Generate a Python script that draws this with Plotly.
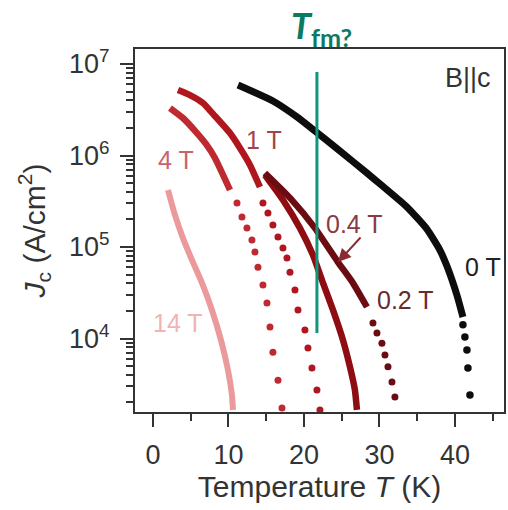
import numpy as np
import plotly.graph_objects as go

# ---------------- data ----------------
# 0 T (black)
T_0T_line = [11.26, 15.89, 19.07, 21.46, 24.77, 28.34, 30.07, 33.64, 36.29, 38.01, 38.94, 40.26, 41.06]
J_0T_line = [5.89e6, 3.94e6, 2.64e6, 1.85e6, 1.12e6, 6.44e5, 4.89e5, 2.74e5, 1.57e5, 9.27e4, 6.19e4, 2.99e4, 1.72e4]
T_0T_dots = [41.06, 41.32, 41.59, 41.72, 41.99]
J_0T_dots = [1.41e4, 1.04e4, 7.5e3, 4.76e3, 2.42e3]

# 0.2 T (dark maroon)
T_02T_line = [14.83, 18.15, 21.46, 24.50, 26.49, 28.34]
J_02T_line = [6.44e5, 3.44e5, 1.61e5, 6.85e4, 4.05e4, 2.21e4]
T_02T_dots = [29.14, 29.67, 30.33, 30.73, 31.13, 31.66, 32.05]
J_02T_dots = [1.48e4, 1.15e4, 8.9e3, 6.6e3, 4.9e3, 3.35e3, 2.3e3]

# 0.4 T (dark red)
T_04T_line = [14.83, 17.22, 19.47, 21.19, 22.52, 23.84, 25.17, 26.09, 26.75, 27.02]
J_04T_line = [6.12e5, 3.27e5, 1.61e5, 8.2e4, 4.05e4, 2.05e4, 9.6e3, 4.9e3, 2.74e3, 1.66e3]

# 1 T (red)
T_1T_line = [3.31, 4.90, 6.62, 8.21, 10.20, 11.52, 12.85, 14.17]
J_1T_line = [5.2e6, 4.58e6, 3.75e6, 2.70e6, 1.76e6, 1.21e6, 7.9e5, 4.53e5]
T_1T_dots = [14.57, 15.23, 15.89, 16.56, 17.22, 17.75, 18.15, 18.81, 19.21, 20.13, 20.53, 21.06, 21.72, 22.12]
J_1T_dots = [3.03e5, 2.36e5, 1.74e5, 1.29e5, 9.75e4, 7.6e4, 5.3e4, 3.39e4, 2.05e4, 1.24e4, 7.9e3, 4.76e3, 2.74e3, 1.66e3]

# 4 T (red)
T_4T_line = [2.25, 3.97, 5.83, 7.02, 8.21, 10.20]
J_4T_line = [3.3e6, 2.57e6, 1.76e6, 1.34e6, 9.4e5, 4.2e5]
T_4T_dots = [11.13, 11.79, 12.45, 13.11, 13.51, 13.91, 14.57, 15.10, 15.50, 15.89, 16.56, 17.09]
J_4T_dots = [3.03e5, 2.13e5, 1.61e5, 1.19e5, 8.8e4, 6.0e4, 3.85e4, 2.44e4, 1.34e4, 7.1e3, 3.5e3, 1.74e3]

# 14 T (pink)
T_14T_line = [1.99, 2.91, 3.97, 5.17, 6.49, 7.81, 9.01, 9.93, 10.46, 10.60]
J_14T_line = [4.2e5, 2.24e5, 1.25e5, 7.2e4, 4.05e4, 2.05e4, 9.6e3, 4.53e3, 2.42e3, 1.66e3]

# T_fm marker line
T_fm = [21.72, 21.72]
J_fm = [8.18e6, 1.15e4]

# labels
label_text = ["B||c", "1 T", "4 T", "0.4 T", "0.2 T", "0 T", "14 T"]
label_T = [41.7, 14.7, 3.05, 26.75, 33.4, 43.7, 3.3]
label_J = [7.03e6, 1.48e6, 8.9e5, 1.78e5, 2.63e4, 6.0e4, 1.48e4]
label_col = ["#333333", "#a3434b", "#c8636f", "#8a3a42", "#6a2a31", "#222222", "#f2b3b4"]
label_size = [27, 25, 25, 25, 25, 25, 25]

arrow_tip = (24.50, 6.85e4)
arrow_tail = (27.68, 1.32e5)

x_ticks = [0, 10, 20, 30, 40]
x_minor = [5, 15, 25, 35, 45]
y_ticks = [1e4, 1e5, 1e6, 1e7]
y_ticktext = ["10<sup>4</sup>", "10<sup>5</sup>", "10<sup>6</sup>", "10<sup>7</sup>"]

# ---------------- figure ----------------
FONT = "Liberation Sans, Arial, sans-serif"
fig = go.Figure()

def line(T, J, color, width):
    fig.add_trace(go.Scatter(x=T, y=J, mode="lines",
                             line=dict(color=color, width=width, shape="spline", smoothing=0.5),
                             hoverinfo="skip", showlegend=False))

def dots(T, J, color, size):
    fig.add_trace(go.Scatter(x=T, y=J, mode="markers", marker=dict(color=color, size=size, line=dict(width=0)),
                             hoverinfo="skip", showlegend=False))

c14 = "#eb9a9c"
c4 = "#bf2a30"
c1 = "#b0161d"
c04 = "#8e0d12"
c02 = "#6a0c12"
c0 = "#0d0d0d"

line(T_14T_line, J_14T_line, c14, 6)
line(T_4T_line, J_4T_line, c4, 6.5)
dots(T_4T_dots, J_4T_dots, c4, 7)
line(T_1T_line, J_1T_line, c1, 6.5)
dots(T_1T_dots, J_1T_dots, c1, 7)
line(T_04T_line, J_04T_line, c04, 6.5)
line(T_02T_line, J_02T_line, c02, 6.5)
dots(T_02T_dots, J_02T_dots, c02, 7)
line(T_0T_line, J_0T_line, c0, 7)
dots(T_0T_dots, J_0T_dots, c0, 7.5)

fig.add_trace(go.Scatter(x=T_fm, y=J_fm, mode="lines", line=dict(color="#12957a", width=3),
                         hoverinfo="skip", showlegend=False))

for t, x, y, c, s in zip(label_text, label_T, label_J, label_col, label_size):
    fig.add_annotation(x=x, y=np.log10(y), text=t, showarrow=False, xref="x", yref="y",
                       font=dict(family=FONT, size=s, color=c), xanchor="center", yanchor="middle")

fig.add_annotation(x=arrow_tip[0], y=np.log10(arrow_tip[1]), ax=arrow_tail[0], ay=np.log10(arrow_tail[1]),
                   xref="x", yref="y", axref="x", ayref="y", text="", showarrow=True,
                   arrowhead=2, arrowsize=1.3, arrowwidth=2, arrowcolor="#8a2a32")

fig.add_annotation(x=22.3, y=1.06, xref="x", yref="paper",
                   text="<b><i>T</i></b><sub><b>fm?</b></sub>", showarrow=False,
                   font=dict(family="Lato, Open Sans, sans-serif", size=36, color="#0b7a63"),
                   xanchor="center", yanchor="middle")

axis_common = dict(showline=True, linecolor="#333333", linewidth=2, mirror=True, automargin=False,
                   showgrid=False, zeroline=False, ticks="outside", tickcolor="#333333",
                   tickwidth=2, tickfont=dict(family=FONT, size=27, color="#333333"))

fig.update_xaxes(range=[-2.38, 46.5], tickvals=x_ticks, ticklen=13, ticklabelstandoff=5,
                 minor=dict(tickvals=x_minor, ticks="outside", ticklen=7, tickwidth=2, tickcolor="#333333"),
                 title=dict(text="Temperature <i>T</i> (K)", standoff=4,
                            font=dict(family=FONT, size=30, color="#333333")),
                 **axis_common)

y_minor = [m * 10 ** e for e in range(3, 7) for m in range(2, 10)]
fig.update_yaxes(type="log", range=[3.197, 7.164], tickvals=y_ticks, ticktext=y_ticktext, ticklen=13,
                 ticklabelstandoff=5,
                 minor=dict(tickvals=y_minor, ticks="outside", ticklen=7, tickwidth=2, tickcolor="#333333"),
                 title=dict(text="<i>J</i><sub>c</sub> (A/cm<sup>2</sup>)",
                            font=dict(family=FONT, size=30, color="#333333")),
                 **axis_common)

fig.update_layout(width=508, height=510, margin=dict(l=135, r=4, t=49, b=98),
                  plot_bgcolor="white", paper_bgcolor="white")

fig.write_html("out.html", config={"displayModeBar": False},
               post_script="document.body.style.margin='0';document.body.style.overflow='hidden';")
